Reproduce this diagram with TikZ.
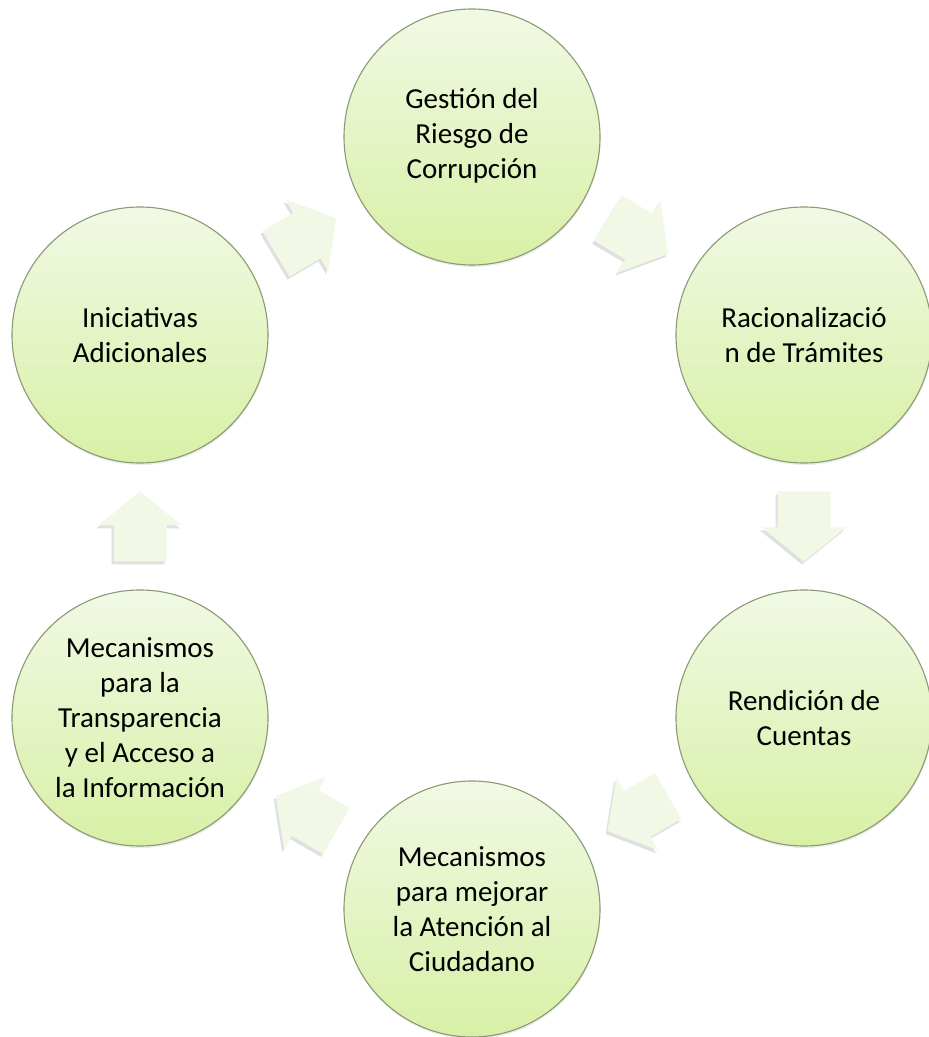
\documentclass[tikz,border=0pt]{standalone}
\usepackage{fontspec}
\setmainfont{Carlito}
\usetikzlibrary{shadows}
\definecolor{circtop}{HTML}{F1F9E4}
\definecolor{circbot}{HTML}{D8F0A6}
\definecolor{circedge}{HTML}{8A9A72}
\definecolor{arrtop}{HTML}{F1F9E6}
\definecolor{arrbot}{HTML}{E4F3CC}
\tikzset{
  stage/.style={circle, minimum size=256pt, inner sep=0pt, draw=circedge,
    line width=1.1pt, top color=circtop, bottom color=circbot, align=center,
    font=\fontsize{29}{35}\selectfont, text=black,
    drop shadow={shadow xshift=0.5pt, shadow yshift=-2pt, opacity=0.16}},
  arrowshape/.pic={
    \path[pic actions] (-35,-26.5) -- (1,-26.5) -- (1,-42) -- (35,0) -- (1,42) -- (1,26.5) -- (-35,26.5) -- cycle;
  },
  shadowpos/.style={midway, sloped, allow upside down, fill=black, fill opacity=0.12},
  arrowpos/.style={midway, sloped, allow upside down, fill=arrtop}
}
\begin{document}
\begin{tikzpicture}[x=1pt, y=1pt]
\useasboundingbox (0,0) rectangle (929,1037);
\node[stage] (g) at (472,900) {\raisebox{-4pt}{\begin{tabular}{@{}c@{}}Gestión del\\Riesgo de\\Corrupción\end{tabular}}};
\node[stage] (r) at (804,702) {Racionalizació\\n de Trámites};
\node[stage] (c) at (804,319) {Rendición de\\Cuentas};
\node[stage] (m) at (472,128) {Mecanismos\\para mejorar\\la Atención al\\Ciudadano};
\node[stage] (t) at (140,319) {Mecanismos\\para la\\Transparencia\\y el Acceso a\\la Información};
\node[stage] (i) at (140,702) {Iniciativas\\Adicionales};
% arrow shadows
\path ([shift={(-2,-3)}]i.center) -- pic[shadowpos] {arrowshape} ([shift={(-2,-3)}]g.center);
\path ([shift={(-2,-3)}]g.center) -- pic[shadowpos] {arrowshape} ([shift={(-2,-3)}]r.center);
\path ([shift={(-2,-3)}]r.center) -- pic[shadowpos] {arrowshape} ([shift={(-2,-3)}]c.center);
\path ([shift={(-2,-3)}]c.center) -- pic[shadowpos] {arrowshape} ([shift={(-2,-3)}]m.center);
\path ([shift={(-2,-3)}]m.center) -- pic[shadowpos] {arrowshape} ([shift={(-2,-3)}]t.center);
\path ([shift={(-2,-3)}]t.center) -- pic[shadowpos] {arrowshape} ([shift={(-2,-3)}]i.center);
% arrows
\path (i.center) -- pic[arrowpos] {arrowshape} (g.center);
\path (g.center) -- pic[arrowpos] {arrowshape} (r.center);
\path (r.center) -- pic[arrowpos] {arrowshape} (c.center);
\path (c.center) -- pic[arrowpos] {arrowshape} (m.center);
\path (m.center) -- pic[arrowpos] {arrowshape} (t.center);
\path (t.center) -- pic[arrowpos] {arrowshape} (i.center);
\end{tikzpicture}
\end{document}
